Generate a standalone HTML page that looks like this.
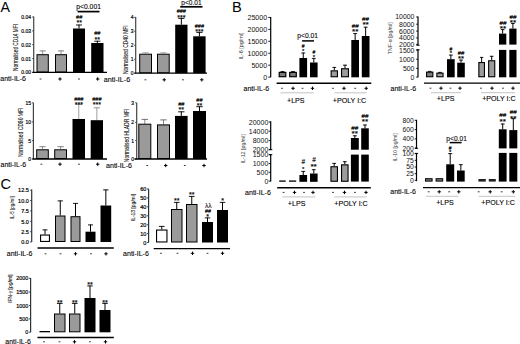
<!DOCTYPE html>
<html><head><meta charset="utf-8"><style>
html,body{margin:0;padding:0;background:#fff;width:520px;height:344px;overflow:hidden}
svg{display:block}
text{font-family:"Liberation Sans", sans-serif}
</style></head><body>
<svg width="520" height="344" viewBox="0 0 520 344">
<rect width="520" height="344" fill="#fff"/>
<text x="0.6" y="11.71" font-size="14.2" text-anchor="start" fill="#000">A</text>
<text x="232.1" y="11.56" font-size="14.6" text-anchor="start" fill="#000">B</text>
<text x="0.5" y="188.96" font-size="14.6" text-anchor="start" fill="#000">C</text>
<line x1="33.7" y1="16.6" x2="33.7" y2="72.4" stroke="#444" stroke-width="1.2"/>
<line x1="32.1" y1="17" x2="33.7" y2="17" stroke="#444" stroke-width="0.9"/>
<text x="31" y="19.09" font-size="5.8" text-anchor="end" fill="#000" stroke="#000" stroke-width="0.2" textLength="9.71" lengthAdjust="spacingAndGlyphs">0.04</text>
<line x1="32.1" y1="30.9" x2="33.7" y2="30.9" stroke="#444" stroke-width="0.9"/>
<text x="31" y="32.99" font-size="5.8" text-anchor="end" fill="#000" stroke="#000" stroke-width="0.2" textLength="9.71" lengthAdjust="spacingAndGlyphs">0.03</text>
<line x1="32.1" y1="44.7" x2="33.7" y2="44.7" stroke="#444" stroke-width="0.9"/>
<text x="31" y="46.79" font-size="5.8" text-anchor="end" fill="#000" stroke="#000" stroke-width="0.2" textLength="9.71" lengthAdjust="spacingAndGlyphs">0.02</text>
<line x1="32.1" y1="58.6" x2="33.7" y2="58.6" stroke="#444" stroke-width="0.9"/>
<text x="31" y="60.69" font-size="5.8" text-anchor="end" fill="#000" stroke="#000" stroke-width="0.2" textLength="9.71" lengthAdjust="spacingAndGlyphs">0.01</text>
<line x1="32.1" y1="72.4" x2="33.7" y2="72.4" stroke="#444" stroke-width="0.9"/>
<text x="31" y="74.49" font-size="5.8" text-anchor="end" fill="#000" stroke="#000" stroke-width="0.2" textLength="9.71" lengthAdjust="spacingAndGlyphs">0.00</text>
<line x1="32.5" y1="72.4" x2="107" y2="72.4" stroke="#000" stroke-width="1.3"/>
<text transform="translate(15.8 47.5) rotate(-90)" x="0" y="2.52" font-size="7" text-anchor="middle" fill="#111" stroke="#111" stroke-width="0.1" textLength="47" lengthAdjust="spacingAndGlyphs">Normalised CD14 MFI</text>
<line x1="42.65" y1="54.2" x2="42.65" y2="50.5" stroke="#777" stroke-width="0.8"/>
<line x1="39.58" y1="50.9" x2="45.72" y2="50.9" stroke="#777" stroke-width="0.9"/>
<rect x="37" y="54.7" width="11.3" height="17.2" fill="#9a9a9a" stroke="#000" stroke-width="1"/>
<line x1="61" y1="54.2" x2="61" y2="50.5" stroke="#777" stroke-width="0.8"/>
<line x1="58" y1="50.9" x2="64" y2="50.9" stroke="#777" stroke-width="0.9"/>
<rect x="55.5" y="54.7" width="11" height="17.2" fill="#9a9a9a" stroke="#000" stroke-width="1"/>
<line x1="79" y1="28.5" x2="79" y2="24.6" stroke="#000" stroke-width="1"/>
<line x1="76" y1="25" x2="82" y2="25" stroke="#000" stroke-width="0.9"/>
<rect x="73" y="28.5" width="12" height="43.9" fill="#000"/>
<line x1="97.35" y1="43" x2="97.35" y2="40.8" stroke="#000" stroke-width="1"/>
<line x1="94.27" y1="41.2" x2="100.42" y2="41.2" stroke="#000" stroke-width="0.9"/>
<rect x="91.2" y="43" width="12.3" height="29.4" fill="#000"/>
<text x="79.2" y="18.72" font-size="5.6" text-anchor="middle" fill="#000" stroke="#000" stroke-width="0.15">##</text>
<text x="79.2" y="25.49" font-size="7" text-anchor="middle" fill="#000" stroke="#000" stroke-width="0.15">**</text>
<text x="97.3" y="35.32" font-size="5.6" text-anchor="middle" fill="#000" stroke="#000" stroke-width="0.15">##</text>
<text x="97.3" y="41.59" font-size="7" text-anchor="middle" fill="#000" stroke="#000" stroke-width="0.15">**</text>
<text x="88.6" y="8.58" font-size="6.6" text-anchor="middle" fill="#000" stroke="#000" stroke-width="0.1" textLength="24.6" lengthAdjust="spacingAndGlyphs">p&lt;0.001</text>
<line x1="77.6" y1="11.6" x2="99.5" y2="11.6" stroke="#000" stroke-width="1.7"/>
<text x="26" y="81.02" font-size="7" text-anchor="end" fill="#000" stroke="#000" stroke-width="0.1">anti-IL-6</text>
<line x1="39.6" y1="79" x2="41.4" y2="79" stroke="#222" stroke-width="0.9"/>
<line x1="58.3" y1="79" x2="61.7" y2="79" stroke="#000" stroke-width="1"/>
<line x1="60" y1="77.3" x2="60" y2="80.7" stroke="#000" stroke-width="1"/>
<line x1="78.1" y1="79" x2="79.9" y2="79" stroke="#222" stroke-width="0.9"/>
<line x1="96" y1="79" x2="99.4" y2="79" stroke="#000" stroke-width="1"/>
<line x1="97.7" y1="77.3" x2="97.7" y2="80.7" stroke="#000" stroke-width="1"/>
<line x1="135.7" y1="17" x2="135.7" y2="73.2" stroke="#444" stroke-width="1.2"/>
<line x1="134.1" y1="17.3" x2="135.7" y2="17.3" stroke="#444" stroke-width="0.9"/>
<text x="133.6" y="19.39" font-size="5.8" text-anchor="end" fill="#000" stroke="#000" stroke-width="0.2" textLength="2.77" lengthAdjust="spacingAndGlyphs">4</text>
<line x1="134.1" y1="31.3" x2="135.7" y2="31.3" stroke="#444" stroke-width="0.9"/>
<text x="133.6" y="33.39" font-size="5.8" text-anchor="end" fill="#000" stroke="#000" stroke-width="0.2" textLength="2.77" lengthAdjust="spacingAndGlyphs">3</text>
<line x1="134.1" y1="45.3" x2="135.7" y2="45.3" stroke="#444" stroke-width="0.9"/>
<text x="133.6" y="47.39" font-size="5.8" text-anchor="end" fill="#000" stroke="#000" stroke-width="0.2" textLength="2.77" lengthAdjust="spacingAndGlyphs">2</text>
<line x1="134.1" y1="59.3" x2="135.7" y2="59.3" stroke="#444" stroke-width="0.9"/>
<text x="133.6" y="61.39" font-size="5.8" text-anchor="end" fill="#000" stroke="#000" stroke-width="0.2" textLength="2.77" lengthAdjust="spacingAndGlyphs">1</text>
<line x1="134.1" y1="73.2" x2="135.7" y2="73.2" stroke="#444" stroke-width="0.9"/>
<text x="133.6" y="75.29" font-size="5.8" text-anchor="end" fill="#000" stroke="#000" stroke-width="0.2" textLength="2.77" lengthAdjust="spacingAndGlyphs">0</text>
<line x1="134.5" y1="73.2" x2="207" y2="73.2" stroke="#000" stroke-width="1.3"/>
<text transform="translate(125.7 49.7) rotate(-90)" x="0" y="2.52" font-size="7" text-anchor="middle" fill="#111" stroke="#111" stroke-width="0.1" textLength="48.8" lengthAdjust="spacingAndGlyphs">Normalised CD40 MFI</text>
<line x1="145.6" y1="53.7" x2="145.6" y2="52.3" stroke="#aaa" stroke-width="0.8"/>
<line x1="142.4" y1="52.7" x2="148.8" y2="52.7" stroke="#aaa" stroke-width="0.9"/>
<rect x="139.7" y="54.2" width="11.8" height="18.5" fill="#9a9a9a" stroke="#000" stroke-width="1"/>
<line x1="163.35" y1="53.7" x2="163.35" y2="52.3" stroke="#aaa" stroke-width="0.8"/>
<line x1="160.18" y1="52.7" x2="166.52" y2="52.7" stroke="#aaa" stroke-width="0.9"/>
<rect x="157.5" y="54.2" width="11.7" height="18.5" fill="#9a9a9a" stroke="#000" stroke-width="1"/>
<line x1="181.35" y1="24.7" x2="181.35" y2="18" stroke="#000" stroke-width="1"/>
<line x1="178.27" y1="18.4" x2="184.43" y2="18.4" stroke="#000" stroke-width="0.9"/>
<rect x="175.2" y="24.7" width="12.3" height="48.5" fill="#000"/>
<line x1="199.4" y1="36.3" x2="199.4" y2="32" stroke="#000" stroke-width="1"/>
<line x1="196.3" y1="32.4" x2="202.5" y2="32.4" stroke="#000" stroke-width="0.9"/>
<rect x="193.2" y="36.3" width="12.4" height="36.9" fill="#000"/>
<text x="181.3" y="13.12" font-size="5.6" text-anchor="middle" fill="#000" stroke="#000" stroke-width="0.15">###</text>
<text x="181.3" y="20.19" font-size="7" text-anchor="middle" fill="#000" stroke="#000" stroke-width="0.15">***</text>
<text x="199.4" y="27.92" font-size="5.6" text-anchor="middle" fill="#000" stroke="#000" stroke-width="0.15">###</text>
<text x="199.4" y="34.19" font-size="7" text-anchor="middle" fill="#000" stroke="#000" stroke-width="0.15">***</text>
<text x="191.4" y="4.68" font-size="6.6" text-anchor="middle" fill="#000" stroke="#000" stroke-width="0.1" textLength="20.3" lengthAdjust="spacingAndGlyphs">p&lt;0.01</text>
<line x1="180.2" y1="6.8" x2="202.5" y2="6.8" stroke="#000" stroke-width="1.7"/>
<text x="130.2" y="82.02" font-size="7" text-anchor="end" fill="#000" stroke="#000" stroke-width="0.1" textLength="26.4" lengthAdjust="spacingAndGlyphs">anti-IL-6</text>
<line x1="144.5" y1="79.8" x2="146.3" y2="79.8" stroke="#222" stroke-width="0.9"/>
<line x1="162.5" y1="79.8" x2="165.9" y2="79.8" stroke="#000" stroke-width="1"/>
<line x1="164.2" y1="78.1" x2="164.2" y2="81.5" stroke="#000" stroke-width="1"/>
<line x1="182.1" y1="79.8" x2="183.9" y2="79.8" stroke="#222" stroke-width="0.9"/>
<line x1="200.1" y1="79.8" x2="203.5" y2="79.8" stroke="#000" stroke-width="1"/>
<line x1="201.8" y1="78.1" x2="201.8" y2="81.5" stroke="#000" stroke-width="1"/>
<line x1="33.4" y1="102.8" x2="33.4" y2="159" stroke="#444" stroke-width="1.2"/>
<line x1="31.8" y1="102.8" x2="33.4" y2="102.8" stroke="#444" stroke-width="0.9"/>
<text x="31" y="104.89" font-size="5.8" text-anchor="end" fill="#000" stroke="#000" stroke-width="0.2" textLength="5.55" lengthAdjust="spacingAndGlyphs">15</text>
<line x1="31.8" y1="121.9" x2="33.4" y2="121.9" stroke="#444" stroke-width="0.9"/>
<text x="31" y="123.99" font-size="5.8" text-anchor="end" fill="#000" stroke="#000" stroke-width="0.2" textLength="5.55" lengthAdjust="spacingAndGlyphs">10</text>
<line x1="31.8" y1="140.6" x2="33.4" y2="140.6" stroke="#444" stroke-width="0.9"/>
<text x="31" y="142.69" font-size="5.8" text-anchor="end" fill="#000" stroke="#000" stroke-width="0.2" textLength="2.77" lengthAdjust="spacingAndGlyphs">5</text>
<line x1="31.8" y1="159" x2="33.4" y2="159" stroke="#444" stroke-width="0.9"/>
<text x="31" y="161.09" font-size="5.8" text-anchor="end" fill="#000" stroke="#000" stroke-width="0.2" textLength="2.77" lengthAdjust="spacingAndGlyphs">0</text>
<line x1="32.5" y1="159" x2="107" y2="159" stroke="#000" stroke-width="1.3"/>
<text transform="translate(20 132.3) rotate(-90)" x="0" y="2.52" font-size="7" text-anchor="middle" fill="#111" stroke="#111" stroke-width="0.1" textLength="49.5" lengthAdjust="spacingAndGlyphs">Normalised CD80 MFI</text>
<line x1="42.5" y1="149.3" x2="42.5" y2="146.3" stroke="#777" stroke-width="0.8"/>
<line x1="39.35" y1="146.7" x2="45.65" y2="146.7" stroke="#777" stroke-width="0.9"/>
<rect x="36.7" y="149.8" width="11.6" height="8.7" fill="#9a9a9a" stroke="#000" stroke-width="1"/>
<line x1="60.6" y1="149.3" x2="60.6" y2="146.3" stroke="#777" stroke-width="0.8"/>
<line x1="57.4" y1="146.7" x2="63.8" y2="146.7" stroke="#777" stroke-width="0.9"/>
<rect x="54.7" y="149.8" width="11.8" height="8.7" fill="#9a9a9a" stroke="#000" stroke-width="1"/>
<line x1="78.75" y1="119" x2="78.75" y2="104" stroke="#888" stroke-width="0.8"/>
<line x1="75.62" y1="104.4" x2="81.88" y2="104.4" stroke="#888" stroke-width="0.9"/>
<rect x="72.5" y="119" width="12.5" height="40" fill="#000"/>
<line x1="96.85" y1="120.2" x2="96.85" y2="107.4" stroke="#888" stroke-width="0.8"/>
<line x1="93.77" y1="107.8" x2="99.92" y2="107.8" stroke="#888" stroke-width="0.9"/>
<rect x="90.7" y="120.2" width="12.3" height="38.8" fill="#000"/>
<text x="78.8" y="100.72" font-size="5.6" text-anchor="middle" fill="#000" stroke="#000" stroke-width="0.15">###</text>
<text x="78.8" y="107.19" font-size="7" text-anchor="middle" fill="#000" stroke="#000" stroke-width="0.15">***</text>
<text x="96.9" y="100.72" font-size="5.6" text-anchor="middle" fill="#000" stroke="#000" stroke-width="0.15">###</text>
<text x="96.9" y="107.19" font-size="7" text-anchor="middle" fill="#000" stroke="#000" stroke-width="0.15">***</text>
<text x="26.2" y="166.82" font-size="7" text-anchor="end" fill="#000" stroke="#000" stroke-width="0.1">anti-IL-6</text>
<line x1="40.5" y1="164.2" x2="42.3" y2="164.2" stroke="#222" stroke-width="0.9"/>
<line x1="58.3" y1="164.2" x2="61.7" y2="164.2" stroke="#000" stroke-width="1"/>
<line x1="60" y1="162.5" x2="60" y2="165.9" stroke="#000" stroke-width="1"/>
<line x1="78.1" y1="164.2" x2="79.9" y2="164.2" stroke="#222" stroke-width="0.9"/>
<line x1="96" y1="164.2" x2="99.4" y2="164.2" stroke="#000" stroke-width="1"/>
<line x1="97.7" y1="162.5" x2="97.7" y2="165.9" stroke="#000" stroke-width="1"/>
<line x1="136.7" y1="102.8" x2="136.7" y2="159" stroke="#444" stroke-width="1.2"/>
<line x1="135.1" y1="102.8" x2="136.7" y2="102.8" stroke="#444" stroke-width="0.9"/>
<text x="134.1" y="104.89" font-size="5.8" text-anchor="end" fill="#000" stroke="#000" stroke-width="0.2" textLength="2.77" lengthAdjust="spacingAndGlyphs">3</text>
<line x1="135.1" y1="122.3" x2="136.7" y2="122.3" stroke="#444" stroke-width="0.9"/>
<text x="134.1" y="124.39" font-size="5.8" text-anchor="end" fill="#000" stroke="#000" stroke-width="0.2" textLength="2.77" lengthAdjust="spacingAndGlyphs">2</text>
<line x1="135.1" y1="140.5" x2="136.7" y2="140.5" stroke="#444" stroke-width="0.9"/>
<text x="134.1" y="142.59" font-size="5.8" text-anchor="end" fill="#000" stroke="#000" stroke-width="0.2" textLength="2.77" lengthAdjust="spacingAndGlyphs">1</text>
<line x1="135.1" y1="159" x2="136.7" y2="159" stroke="#444" stroke-width="0.9"/>
<text x="134.1" y="161.09" font-size="5.8" text-anchor="end" fill="#000" stroke="#000" stroke-width="0.2" textLength="2.77" lengthAdjust="spacingAndGlyphs">0</text>
<line x1="134.5" y1="159" x2="207" y2="159" stroke="#000" stroke-width="1.3"/>
<text transform="translate(126 135.5) rotate(-90)" x="0" y="2.52" font-size="7" text-anchor="middle" fill="#111" stroke="#111" stroke-width="0.1" textLength="53.4" lengthAdjust="spacingAndGlyphs">Normalised HLADR MFI</text>
<line x1="144.8" y1="123.7" x2="144.8" y2="119" stroke="#666" stroke-width="0.8"/>
<line x1="141.55" y1="119.4" x2="148.05" y2="119.4" stroke="#666" stroke-width="0.9"/>
<rect x="138.8" y="124.2" width="12" height="34.3" fill="#9a9a9a" stroke="#000" stroke-width="1"/>
<line x1="163.5" y1="124.4" x2="163.5" y2="119.5" stroke="#666" stroke-width="0.8"/>
<line x1="160.25" y1="119.9" x2="166.75" y2="119.9" stroke="#666" stroke-width="0.9"/>
<rect x="157.5" y="124.9" width="12" height="33.6" fill="#9a9a9a" stroke="#000" stroke-width="1"/>
<line x1="181.3" y1="115.9" x2="181.3" y2="111.4" stroke="#000" stroke-width="1"/>
<line x1="178.15" y1="111.8" x2="184.45" y2="111.8" stroke="#000" stroke-width="0.9"/>
<rect x="175" y="115.9" width="12.6" height="43.1" fill="#000"/>
<line x1="199.5" y1="111" x2="199.5" y2="106.3" stroke="#000" stroke-width="1"/>
<line x1="196.25" y1="106.7" x2="202.75" y2="106.7" stroke="#000" stroke-width="0.9"/>
<rect x="193" y="111" width="13" height="48" fill="#000"/>
<text x="181.3" y="106.12" font-size="5.6" text-anchor="middle" fill="#000" stroke="#000" stroke-width="0.15">##</text>
<text x="181.3" y="112.19" font-size="7" text-anchor="middle" fill="#000" stroke="#000" stroke-width="0.15">**</text>
<text x="199.4" y="101.52" font-size="5.6" text-anchor="middle" fill="#000" stroke="#000" stroke-width="0.15">##</text>
<text x="199.4" y="107.89" font-size="7" text-anchor="middle" fill="#000" stroke="#000" stroke-width="0.15">**</text>
<text x="132" y="168.32" font-size="7" text-anchor="end" fill="#000" stroke="#000" stroke-width="0.1" textLength="26" lengthAdjust="spacingAndGlyphs">anti-IL-6</text>
<line x1="146.3" y1="165.5" x2="148.1" y2="165.5" stroke="#222" stroke-width="0.9"/>
<line x1="164" y1="165.5" x2="167.4" y2="165.5" stroke="#000" stroke-width="1"/>
<line x1="165.7" y1="163.8" x2="165.7" y2="167.2" stroke="#000" stroke-width="1"/>
<line x1="183.9" y1="165.5" x2="185.7" y2="165.5" stroke="#222" stroke-width="0.9"/>
<line x1="202.3" y1="165.5" x2="205.7" y2="165.5" stroke="#000" stroke-width="1"/>
<line x1="204" y1="163.8" x2="204" y2="167.2" stroke="#000" stroke-width="1"/>
<line x1="31.7" y1="189.5" x2="31.7" y2="242" stroke="#333" stroke-width="1.2"/>
<line x1="30.1" y1="190.2" x2="31.7" y2="190.2" stroke="#333" stroke-width="0.9"/>
<text x="28.8" y="192.4" font-size="6.1" text-anchor="end" fill="#000" stroke="#000" stroke-width="0.2" textLength="10.69" lengthAdjust="spacingAndGlyphs">12.5</text>
<line x1="30.1" y1="200.5" x2="31.7" y2="200.5" stroke="#333" stroke-width="0.9"/>
<text x="28.8" y="202.7" font-size="6.1" text-anchor="end" fill="#000" stroke="#000" stroke-width="0.2" textLength="10.69" lengthAdjust="spacingAndGlyphs">10.0</text>
<line x1="30.1" y1="210.9" x2="31.7" y2="210.9" stroke="#333" stroke-width="0.9"/>
<text x="28.8" y="213.1" font-size="6.1" text-anchor="end" fill="#000" stroke="#000" stroke-width="0.2" textLength="7.63" lengthAdjust="spacingAndGlyphs">7.5</text>
<line x1="30.1" y1="221.3" x2="31.7" y2="221.3" stroke="#333" stroke-width="0.9"/>
<text x="28.8" y="223.5" font-size="6.1" text-anchor="end" fill="#000" stroke="#000" stroke-width="0.2" textLength="7.63" lengthAdjust="spacingAndGlyphs">5.0</text>
<line x1="30.1" y1="231.7" x2="31.7" y2="231.7" stroke="#333" stroke-width="0.9"/>
<text x="28.8" y="233.9" font-size="6.1" text-anchor="end" fill="#000" stroke="#000" stroke-width="0.2" textLength="7.63" lengthAdjust="spacingAndGlyphs">2.5</text>
<line x1="30.1" y1="242" x2="31.7" y2="242" stroke="#333" stroke-width="0.9"/>
<text x="28.8" y="244.2" font-size="6.1" text-anchor="end" fill="#000" stroke="#000" stroke-width="0.2" textLength="7.63" lengthAdjust="spacingAndGlyphs">0.0</text>
<text transform="translate(11.6 207.7) rotate(-90)" x="0" y="2.23" font-size="6.2" text-anchor="middle" fill="#111" stroke="#111" stroke-width="0.1" textLength="22.7" lengthAdjust="spacingAndGlyphs">IL-5 [pg/ml]</text>
<line x1="45" y1="234.5" x2="45" y2="229.5" stroke="#000" stroke-width="1"/>
<line x1="42.5" y1="229.9" x2="47.5" y2="229.9" stroke="#000" stroke-width="0.9"/>
<rect x="40.55" y="235.05" width="8.9" height="6.4" fill="#fff" stroke="#000" stroke-width="1.1"/>
<line x1="60.25" y1="215.5" x2="60.25" y2="200.5" stroke="#000" stroke-width="1"/>
<line x1="57.62" y1="200.9" x2="62.88" y2="200.9" stroke="#000" stroke-width="0.9"/>
<rect x="55.5" y="216" width="9.5" height="25.5" fill="#9a9a9a" stroke="#000" stroke-width="1"/>
<line x1="75.5" y1="216.2" x2="75.5" y2="203" stroke="#000" stroke-width="1"/>
<line x1="73" y1="203.4" x2="78" y2="203.4" stroke="#000" stroke-width="0.9"/>
<rect x="71" y="216.7" width="9" height="24.8" fill="#9a9a9a" stroke="#000" stroke-width="1"/>
<line x1="90.5" y1="231.7" x2="90.5" y2="224.5" stroke="#000" stroke-width="1"/>
<line x1="88" y1="224.9" x2="93" y2="224.9" stroke="#000" stroke-width="0.9"/>
<rect x="85.5" y="231.7" width="10" height="10.3" fill="#000"/>
<line x1="105.85" y1="205.5" x2="105.85" y2="189.5" stroke="#000" stroke-width="1"/>
<line x1="103.17" y1="189.9" x2="108.52" y2="189.9" stroke="#000" stroke-width="0.9"/>
<rect x="100.5" y="205.5" width="10.7" height="36.5" fill="#000"/>
<line x1="37.5" y1="248" x2="113.8" y2="248" stroke="#000" stroke-width="1.3"/>
<text x="32.5" y="256.32" font-size="7" text-anchor="end" fill="#000" stroke="#000" stroke-width="0.1">anti-IL-6</text>
<line x1="44.6" y1="253.8" x2="46.4" y2="253.8" stroke="#222" stroke-width="0.9"/>
<line x1="59.6" y1="253.8" x2="61.4" y2="253.8" stroke="#222" stroke-width="0.9"/>
<line x1="73.8" y1="253.8" x2="77.2" y2="253.8" stroke="#000" stroke-width="1"/>
<line x1="75.5" y1="252.1" x2="75.5" y2="255.5" stroke="#000" stroke-width="1"/>
<line x1="90.1" y1="253.8" x2="91.9" y2="253.8" stroke="#222" stroke-width="0.9"/>
<line x1="104.3" y1="253.8" x2="107.7" y2="253.8" stroke="#000" stroke-width="1"/>
<line x1="106" y1="252.1" x2="106" y2="255.5" stroke="#000" stroke-width="1"/>
<line x1="148.6" y1="188.7" x2="148.6" y2="242.5" stroke="#333" stroke-width="1.2"/>
<line x1="147" y1="189" x2="148.6" y2="189" stroke="#333" stroke-width="0.9"/>
<text x="146.4" y="191.23" font-size="6.2" text-anchor="end" fill="#000" stroke="#000" stroke-width="0.2" textLength="6.21" lengthAdjust="spacingAndGlyphs">60</text>
<line x1="147" y1="197.9" x2="148.6" y2="197.9" stroke="#333" stroke-width="0.9"/>
<text x="146.4" y="200.13" font-size="6.2" text-anchor="end" fill="#000" stroke="#000" stroke-width="0.2" textLength="6.21" lengthAdjust="spacingAndGlyphs">50</text>
<line x1="147" y1="206.8" x2="148.6" y2="206.8" stroke="#333" stroke-width="0.9"/>
<text x="146.4" y="209.03" font-size="6.2" text-anchor="end" fill="#000" stroke="#000" stroke-width="0.2" textLength="6.21" lengthAdjust="spacingAndGlyphs">40</text>
<line x1="147" y1="215.8" x2="148.6" y2="215.8" stroke="#333" stroke-width="0.9"/>
<text x="146.4" y="218.03" font-size="6.2" text-anchor="end" fill="#000" stroke="#000" stroke-width="0.2" textLength="6.21" lengthAdjust="spacingAndGlyphs">30</text>
<line x1="147" y1="224.7" x2="148.6" y2="224.7" stroke="#333" stroke-width="0.9"/>
<text x="146.4" y="226.93" font-size="6.2" text-anchor="end" fill="#000" stroke="#000" stroke-width="0.2" textLength="6.21" lengthAdjust="spacingAndGlyphs">20</text>
<line x1="147" y1="233.6" x2="148.6" y2="233.6" stroke="#333" stroke-width="0.9"/>
<text x="146.4" y="235.83" font-size="6.2" text-anchor="end" fill="#000" stroke="#000" stroke-width="0.2" textLength="6.21" lengthAdjust="spacingAndGlyphs">10</text>
<line x1="147" y1="242.5" x2="148.6" y2="242.5" stroke="#333" stroke-width="0.9"/>
<text x="146.4" y="244.73" font-size="6.2" text-anchor="end" fill="#000" stroke="#000" stroke-width="0.2" textLength="3.1" lengthAdjust="spacingAndGlyphs">0</text>
<text transform="translate(132.8 207.5) rotate(-90)" x="0" y="2.23" font-size="6.2" text-anchor="middle" fill="#111" stroke="#111" stroke-width="0.1" textLength="27.2" lengthAdjust="spacingAndGlyphs">IL-13 [pg/ml]</text>
<line x1="161.75" y1="229.5" x2="161.75" y2="226" stroke="#000" stroke-width="1"/>
<line x1="158.88" y1="226.4" x2="164.62" y2="226.4" stroke="#000" stroke-width="0.9"/>
<rect x="156.55" y="230.05" width="10.4" height="11.9" fill="#fff" stroke="#000" stroke-width="1.1"/>
<line x1="176.75" y1="209" x2="176.75" y2="202" stroke="#000" stroke-width="1"/>
<line x1="173.88" y1="202.4" x2="179.62" y2="202.4" stroke="#000" stroke-width="0.9"/>
<rect x="171.5" y="209.5" width="10.5" height="32.5" fill="#9a9a9a" stroke="#000" stroke-width="1"/>
<line x1="191.75" y1="204" x2="191.75" y2="196" stroke="#000" stroke-width="1"/>
<line x1="188.88" y1="196.4" x2="194.62" y2="196.4" stroke="#000" stroke-width="0.9"/>
<rect x="186.5" y="204.5" width="10.5" height="37.5" fill="#9a9a9a" stroke="#000" stroke-width="1"/>
<line x1="207.5" y1="222" x2="207.5" y2="217.5" stroke="#000" stroke-width="1"/>
<line x1="204.75" y1="217.9" x2="210.25" y2="217.9" stroke="#000" stroke-width="0.9"/>
<rect x="202" y="222" width="11" height="20.5" fill="#000"/>
<line x1="222.5" y1="210" x2="222.5" y2="202" stroke="#000" stroke-width="1"/>
<line x1="219.75" y1="202.4" x2="225.25" y2="202.4" stroke="#000" stroke-width="0.9"/>
<rect x="217" y="210" width="11" height="32.5" fill="#000"/>
<text x="176.7" y="202.79" font-size="7" text-anchor="middle" fill="#000" stroke="#000" stroke-width="0.15">**</text>
<text x="191.7" y="197.19" font-size="7" text-anchor="middle" fill="#000" stroke="#000" stroke-width="0.15">**</text>
<text x="208.3" y="207.76" font-size="6.8" text-anchor="middle" fill="#000" stroke="#000" stroke-width="0.05">λλ</text>
<text x="208" y="213.11" font-size="5.3" text-anchor="middle" fill="#000" stroke="#000" stroke-width="0.15">##</text>
<text x="207.5" y="218.59" font-size="7" text-anchor="middle" fill="#000" stroke="#000" stroke-width="0.15">*</text>
<text x="222.5" y="202.89" font-size="7" text-anchor="middle" fill="#000" stroke="#000" stroke-width="0.15">*</text>
<line x1="153.7" y1="248.7" x2="230" y2="248.7" stroke="#000" stroke-width="1.3"/>
<text x="148.8" y="255.82" font-size="7" text-anchor="end" fill="#000" stroke="#000" stroke-width="0.1">anti-IL-6</text>
<line x1="160.1" y1="253.3" x2="161.9" y2="253.3" stroke="#222" stroke-width="0.9"/>
<line x1="176.6" y1="253.3" x2="178.4" y2="253.3" stroke="#222" stroke-width="0.9"/>
<line x1="190.8" y1="253.3" x2="194.2" y2="253.3" stroke="#000" stroke-width="1"/>
<line x1="192.5" y1="251.6" x2="192.5" y2="255" stroke="#000" stroke-width="1"/>
<line x1="206.6" y1="253.3" x2="208.4" y2="253.3" stroke="#222" stroke-width="0.9"/>
<line x1="220.8" y1="253.3" x2="224.2" y2="253.3" stroke="#000" stroke-width="1"/>
<line x1="222.5" y1="251.6" x2="222.5" y2="255" stroke="#000" stroke-width="1"/>
<line x1="30.6" y1="278" x2="30.6" y2="332.3" stroke="#333" stroke-width="1.2"/>
<line x1="29" y1="278.3" x2="30.6" y2="278.3" stroke="#333" stroke-width="0.9"/>
<text x="28.3" y="280.46" font-size="6" text-anchor="end" fill="#000" stroke="#000" stroke-width="0.2" textLength="12.01" lengthAdjust="spacingAndGlyphs">2000</text>
<line x1="29" y1="292" x2="30.6" y2="292" stroke="#333" stroke-width="0.9"/>
<text x="28.3" y="294.16" font-size="6" text-anchor="end" fill="#000" stroke="#000" stroke-width="0.2" textLength="12.01" lengthAdjust="spacingAndGlyphs">1500</text>
<line x1="29" y1="305.5" x2="30.6" y2="305.5" stroke="#333" stroke-width="0.9"/>
<text x="28.3" y="307.66" font-size="6" text-anchor="end" fill="#000" stroke="#000" stroke-width="0.2" textLength="12.01" lengthAdjust="spacingAndGlyphs">1000</text>
<line x1="29" y1="318.9" x2="30.6" y2="318.9" stroke="#333" stroke-width="0.9"/>
<text x="28.3" y="321.06" font-size="6" text-anchor="end" fill="#000" stroke="#000" stroke-width="0.2" textLength="9.01" lengthAdjust="spacingAndGlyphs">500</text>
<line x1="29" y1="332.2" x2="30.6" y2="332.2" stroke="#333" stroke-width="0.9"/>
<text x="28.3" y="334.36" font-size="6" text-anchor="end" fill="#000" stroke="#000" stroke-width="0.2" textLength="3" lengthAdjust="spacingAndGlyphs">0</text>
<text transform="translate(9.7 288.7) rotate(-90)" x="0" y="2.23" font-size="6.2" text-anchor="middle" fill="#111" stroke="#111" stroke-width="0.1" textLength="28.5" lengthAdjust="spacingAndGlyphs">IFN-γ [pg/ml]</text>
<rect x="40" y="331.5" width="9.5" height="0.3" fill="#fff" stroke="#000" stroke-width="1"/>
<line x1="59.75" y1="313.5" x2="59.75" y2="303" stroke="#000" stroke-width="1"/>
<line x1="56.88" y1="303.4" x2="62.62" y2="303.4" stroke="#000" stroke-width="0.9"/>
<rect x="54.5" y="314" width="10.5" height="17.8" fill="#9a9a9a" stroke="#000" stroke-width="1"/>
<line x1="74.75" y1="313.5" x2="74.75" y2="303" stroke="#000" stroke-width="1"/>
<line x1="71.88" y1="303.4" x2="77.62" y2="303.4" stroke="#000" stroke-width="0.9"/>
<rect x="69.5" y="314" width="10.5" height="17.8" fill="#9a9a9a" stroke="#000" stroke-width="1"/>
<line x1="90" y1="298" x2="90" y2="285.5" stroke="#000" stroke-width="1"/>
<line x1="87.25" y1="285.9" x2="92.75" y2="285.9" stroke="#000" stroke-width="0.9"/>
<rect x="84.5" y="298" width="11" height="34.3" fill="#000"/>
<line x1="105" y1="310" x2="105" y2="303" stroke="#000" stroke-width="1"/>
<line x1="102.25" y1="303.4" x2="107.75" y2="303.4" stroke="#000" stroke-width="0.9"/>
<rect x="99.5" y="310" width="11" height="22.3" fill="#000"/>
<text x="59.7" y="305.29" font-size="7" text-anchor="middle" fill="#000" stroke="#000" stroke-width="0.15">**</text>
<text x="74.7" y="305.29" font-size="7" text-anchor="middle" fill="#000" stroke="#000" stroke-width="0.15">**</text>
<text x="90" y="286.59" font-size="7" text-anchor="middle" fill="#000" stroke="#000" stroke-width="0.15">**</text>
<text x="105" y="304.59" font-size="7" text-anchor="middle" fill="#000" stroke="#000" stroke-width="0.15">**</text>
<line x1="37.5" y1="337.5" x2="113.8" y2="337.5" stroke="#000" stroke-width="1.3"/>
<text x="31" y="344.32" font-size="7" text-anchor="end" fill="#000" stroke="#000" stroke-width="0.1">anti-IL-6</text>
<line x1="43.1" y1="341.8" x2="44.9" y2="341.8" stroke="#222" stroke-width="0.9"/>
<line x1="58.6" y1="341.8" x2="60.4" y2="341.8" stroke="#222" stroke-width="0.9"/>
<line x1="72.8" y1="341.8" x2="76.2" y2="341.8" stroke="#000" stroke-width="1"/>
<line x1="74.5" y1="340.1" x2="74.5" y2="343.5" stroke="#000" stroke-width="1"/>
<line x1="89.1" y1="341.8" x2="90.9" y2="341.8" stroke="#222" stroke-width="0.9"/>
<line x1="103.8" y1="341.8" x2="107.2" y2="341.8" stroke="#000" stroke-width="1"/>
<line x1="105.5" y1="340.1" x2="105.5" y2="343.5" stroke="#000" stroke-width="1"/>
<line x1="270.7" y1="17" x2="270.7" y2="77.3" stroke="#000" stroke-width="1.2"/>
<line x1="268.3" y1="17.4" x2="270.7" y2="17.4" stroke="#000" stroke-width="0.9"/>
<text x="267.2" y="19.96" font-size="7.1" text-anchor="end" fill="#111">25000</text>
<line x1="268.3" y1="29.34" x2="270.7" y2="29.34" stroke="#000" stroke-width="0.9"/>
<text x="267.2" y="31.9" font-size="7.1" text-anchor="end" fill="#111">20000</text>
<line x1="268.3" y1="41.28" x2="270.7" y2="41.28" stroke="#000" stroke-width="0.9"/>
<text x="267.2" y="43.84" font-size="7.1" text-anchor="end" fill="#111">15000</text>
<line x1="268.3" y1="53.22" x2="270.7" y2="53.22" stroke="#000" stroke-width="0.9"/>
<text x="267.2" y="55.78" font-size="7.1" text-anchor="end" fill="#111">10000</text>
<line x1="268.3" y1="65.16" x2="270.7" y2="65.16" stroke="#000" stroke-width="0.9"/>
<text x="267.2" y="67.72" font-size="7.1" text-anchor="end" fill="#111">5000</text>
<line x1="268.3" y1="77.1" x2="270.7" y2="77.1" stroke="#000" stroke-width="0.9"/>
<text x="267.2" y="79.66" font-size="7.1" text-anchor="end" fill="#111">0</text>
<text transform="translate(241.2 46) rotate(-90)" x="0" y="2.16" font-size="6" text-anchor="middle" fill="#333" textLength="27" lengthAdjust="spacingAndGlyphs">IL-6 [pg/ml]</text>
<line x1="282.5" y1="71.8" x2="282.5" y2="71.2" stroke="#000" stroke-width="1"/>
<line x1="280.55" y1="71.6" x2="284.45" y2="71.6" stroke="#000" stroke-width="0.9"/>
<rect x="279.2" y="72.4" width="6.6" height="4.3" fill="#7a7a7a" stroke="#000" stroke-width="1.2"/>
<line x1="293" y1="71.8" x2="293" y2="71.2" stroke="#000" stroke-width="1"/>
<line x1="291.05" y1="71.6" x2="294.95" y2="71.6" stroke="#000" stroke-width="0.9"/>
<rect x="289.7" y="72.4" width="6.6" height="4.3" fill="#7a7a7a" stroke="#000" stroke-width="1.2"/>
<line x1="303.25" y1="58" x2="303.25" y2="52.6" stroke="#000" stroke-width="1"/>
<line x1="301.32" y1="53" x2="305.18" y2="53" stroke="#000" stroke-width="0.9"/>
<rect x="299.4" y="58" width="7.7" height="19.3" fill="#000"/>
<line x1="313.8" y1="62.5" x2="313.8" y2="58" stroke="#000" stroke-width="1"/>
<line x1="311.9" y1="58.4" x2="315.7" y2="58.4" stroke="#000" stroke-width="0.9"/>
<rect x="310" y="62.5" width="7.6" height="14.8" fill="#000"/>
<text x="303.2" y="48.01" font-size="5" text-anchor="middle" fill="#000" stroke="#000" stroke-width="0.15">#</text>
<text x="303.2" y="52.68" font-size="6" text-anchor="middle" fill="#000" stroke="#000" stroke-width="0.15">*</text>
<text x="313.8" y="54.01" font-size="5" text-anchor="middle" fill="#000" stroke="#000" stroke-width="0.15">#</text>
<text x="313.8" y="58.68" font-size="6" text-anchor="middle" fill="#000" stroke="#000" stroke-width="0.15">*</text>
<text x="307.6" y="38.16" font-size="7.1" text-anchor="middle" fill="#000" stroke="#000" stroke-width="0.1" textLength="20.7" lengthAdjust="spacingAndGlyphs">p&lt;0.01</text>
<line x1="302.1" y1="40.9" x2="314" y2="40.9" stroke="#000" stroke-width="1.5"/>
<line x1="334.3" y1="70.3" x2="334.3" y2="67" stroke="#000" stroke-width="1"/>
<line x1="332.45" y1="67.4" x2="336.15" y2="67.4" stroke="#000" stroke-width="0.9"/>
<rect x="331.15" y="70.85" width="6.3" height="5.9" fill="#9c9c9c" stroke="#000" stroke-width="1.1"/>
<line x1="345" y1="68.2" x2="345" y2="64.8" stroke="#000" stroke-width="1"/>
<line x1="343" y1="65.2" x2="347" y2="65.2" stroke="#000" stroke-width="0.9"/>
<rect x="341.55" y="68.75" width="6.9" height="8" fill="#9c9c9c" stroke="#000" stroke-width="1.1"/>
<line x1="355.15" y1="40" x2="355.15" y2="33.2" stroke="#000" stroke-width="1"/>
<line x1="353.22" y1="33.6" x2="357.07" y2="33.6" stroke="#000" stroke-width="0.9"/>
<rect x="351.3" y="40" width="7.7" height="37.3" fill="#000"/>
<line x1="365.65" y1="36" x2="365.65" y2="26.8" stroke="#000" stroke-width="1"/>
<line x1="363.72" y1="27.2" x2="367.57" y2="27.2" stroke="#000" stroke-width="0.9"/>
<rect x="361.8" y="36" width="7.7" height="41.3" fill="#000"/>
<text x="355.3" y="28.22" font-size="5.6" text-anchor="middle" fill="#000" stroke="#000" stroke-width="0.15" textLength="7" lengthAdjust="spacingAndGlyphs">##</text>
<text x="355.3" y="33.93" font-size="6.5" text-anchor="middle" fill="#000" stroke="#000" stroke-width="0.15" textLength="6.4" lengthAdjust="spacingAndGlyphs">**</text>
<text x="365.6" y="21.12" font-size="5.6" text-anchor="middle" fill="#000" stroke="#000" stroke-width="0.15" textLength="7" lengthAdjust="spacingAndGlyphs">##</text>
<text x="365.6" y="26.93" font-size="6.5" text-anchor="middle" fill="#000" stroke="#000" stroke-width="0.15" textLength="6.4" lengthAdjust="spacingAndGlyphs">**</text>
<line x1="276.6" y1="83.3" x2="371.3" y2="83.3" stroke="#000" stroke-width="1.4"/>
<text x="269.2" y="90.82" font-size="7" text-anchor="end" fill="#000" stroke="#000" stroke-width="0.1">anti-IL-6</text>
<line x1="281.1" y1="88.3" x2="282.9" y2="88.3" stroke="#222" stroke-width="0.9"/>
<line x1="291.3" y1="88.3" x2="294.7" y2="88.3" stroke="#000" stroke-width="1"/>
<line x1="293" y1="86.6" x2="293" y2="90" stroke="#000" stroke-width="1"/>
<line x1="301.6" y1="88.3" x2="303.4" y2="88.3" stroke="#222" stroke-width="0.9"/>
<line x1="310.8" y1="88.3" x2="314.2" y2="88.3" stroke="#000" stroke-width="1"/>
<line x1="312.5" y1="86.6" x2="312.5" y2="90" stroke="#000" stroke-width="1"/>
<line x1="332.1" y1="88.3" x2="333.9" y2="88.3" stroke="#222" stroke-width="0.9"/>
<line x1="342.3" y1="88.3" x2="345.7" y2="88.3" stroke="#000" stroke-width="1"/>
<line x1="344" y1="86.6" x2="344" y2="90" stroke="#000" stroke-width="1"/>
<line x1="354.3" y1="88.3" x2="356.1" y2="88.3" stroke="#222" stroke-width="0.9"/>
<line x1="364.5" y1="88.3" x2="367.9" y2="88.3" stroke="#000" stroke-width="1"/>
<line x1="366.2" y1="86.6" x2="366.2" y2="90" stroke="#000" stroke-width="1"/>
<line x1="280.5" y1="92.8" x2="313.8" y2="92.8" stroke="#aaa" stroke-width="0.7"/>
<line x1="334.4" y1="92.8" x2="366.7" y2="92.8" stroke="#aaa" stroke-width="0.7"/>
<text x="295.8" y="102.66" font-size="7.1" text-anchor="middle" fill="#000" stroke="#000" stroke-width="0.1">+LPS</text>
<text x="349.5" y="102.66" font-size="7.1" text-anchor="middle" fill="#000" stroke="#000" stroke-width="0.1">+POLY I:C</text>
<line x1="418" y1="16.6" x2="418" y2="45.6" stroke="#000" stroke-width="1.2"/>
<line x1="418" y1="49.4" x2="418" y2="77.3" stroke="#000" stroke-width="1.2"/>
<line x1="416.4" y1="45.2" x2="419.6" y2="45.2" stroke="#000" stroke-width="1"/>
<line x1="416.4" y1="49.8" x2="419.6" y2="49.8" stroke="#000" stroke-width="1"/>
<line x1="416.2" y1="17" x2="418" y2="17" stroke="#000" stroke-width="0.9"/>
<text x="414.4" y="19.48" font-size="6.9" text-anchor="end" fill="#111">10000</text>
<line x1="416.2" y1="24.2" x2="418" y2="24.2" stroke="#000" stroke-width="0.9"/>
<text x="414.4" y="26.68" font-size="6.9" text-anchor="end" fill="#111">8000</text>
<line x1="416.2" y1="31.1" x2="418" y2="31.1" stroke="#000" stroke-width="0.9"/>
<text x="414.4" y="33.58" font-size="6.9" text-anchor="end" fill="#111">6000</text>
<line x1="416.2" y1="37.9" x2="418" y2="37.9" stroke="#000" stroke-width="0.9"/>
<text x="414.4" y="40.38" font-size="6.9" text-anchor="end" fill="#111">4000</text>
<line x1="416.2" y1="44.3" x2="418" y2="44.3" stroke="#000" stroke-width="0.9"/>
<text x="414.4" y="46.78" font-size="6.9" text-anchor="end" fill="#111">2000</text>
<line x1="416.2" y1="50.1" x2="418" y2="50.1" stroke="#000" stroke-width="0.9"/>
<text x="414.4" y="52.58" font-size="6.9" text-anchor="end" fill="#111">1500</text>
<line x1="416.2" y1="59.2" x2="418" y2="59.2" stroke="#000" stroke-width="0.9"/>
<text x="414.4" y="61.68" font-size="6.9" text-anchor="end" fill="#111">1000</text>
<line x1="416.2" y1="68.4" x2="418" y2="68.4" stroke="#000" stroke-width="0.9"/>
<text x="414.4" y="70.88" font-size="6.9" text-anchor="end" fill="#111">500</text>
<line x1="416.2" y1="77.1" x2="418" y2="77.1" stroke="#000" stroke-width="0.9"/>
<text x="414.4" y="79.58" font-size="6.9" text-anchor="end" fill="#111">0</text>
<text transform="translate(390.3 38.2) rotate(-90)" x="0" y="2.16" font-size="6" text-anchor="middle" fill="#333" textLength="32" lengthAdjust="spacingAndGlyphs">TNF-α [pg/ml]</text>
<line x1="429.7" y1="71.6" x2="429.7" y2="71" stroke="#000" stroke-width="1"/>
<line x1="427.85" y1="71.4" x2="431.55" y2="71.4" stroke="#000" stroke-width="0.9"/>
<rect x="426.55" y="72.15" width="6.3" height="4.6" fill="#7a7a7a" stroke="#000" stroke-width="1.1"/>
<line x1="439.95" y1="72.6" x2="439.95" y2="72" stroke="#000" stroke-width="1"/>
<line x1="438.13" y1="72.4" x2="441.78" y2="72.4" stroke="#000" stroke-width="0.9"/>
<rect x="436.85" y="73.15" width="6.2" height="3.6" fill="#9c9c9c" stroke="#000" stroke-width="1.1"/>
<line x1="450.85" y1="59.2" x2="450.85" y2="54.7" stroke="#000" stroke-width="1"/>
<line x1="448.93" y1="55.1" x2="452.78" y2="55.1" stroke="#000" stroke-width="0.9"/>
<rect x="447" y="59.2" width="7.7" height="18.1" fill="#000"/>
<line x1="461" y1="62.7" x2="461" y2="59.7" stroke="#000" stroke-width="1"/>
<line x1="459.1" y1="60.1" x2="462.9" y2="60.1" stroke="#000" stroke-width="0.9"/>
<rect x="457.2" y="62.7" width="7.6" height="14.6" fill="#000"/>
<text x="450.9" y="50.51" font-size="5" text-anchor="middle" fill="#000" stroke="#000" stroke-width="0.15">#</text>
<text x="450.9" y="55.08" font-size="6" text-anchor="middle" fill="#000" stroke="#000" stroke-width="0.15">*</text>
<text x="461" y="54.71" font-size="5" text-anchor="middle" fill="#000" stroke="#000" stroke-width="0.15" textLength="6.6" lengthAdjust="spacingAndGlyphs">##</text>
<text x="461" y="60.63" font-size="6.5" text-anchor="middle" fill="#000" stroke="#000" stroke-width="0.15" textLength="6" lengthAdjust="spacingAndGlyphs">**</text>
<line x1="481.65" y1="62" x2="481.65" y2="57" stroke="#000" stroke-width="1"/>
<line x1="479.97" y1="57.4" x2="483.32" y2="57.4" stroke="#000" stroke-width="0.9"/>
<rect x="478.85" y="62.55" width="5.6" height="14.2" fill="#9c9c9c" stroke="#000" stroke-width="1.1"/>
<line x1="491.7" y1="60.2" x2="491.7" y2="55.9" stroke="#000" stroke-width="1"/>
<line x1="489.9" y1="56.3" x2="493.5" y2="56.3" stroke="#000" stroke-width="0.9"/>
<rect x="488.65" y="60.75" width="6.1" height="16" fill="#9c9c9c" stroke="#000" stroke-width="1.1"/>
<line x1="502.65" y1="33.6" x2="502.65" y2="29.2" stroke="#000" stroke-width="1"/>
<line x1="500.82" y1="29.6" x2="504.47" y2="29.6" stroke="#000" stroke-width="0.9"/>
<rect x="499" y="33.6" width="7.3" height="11" fill="#000"/>
<rect x="499" y="49.9" width="7.3" height="27.4" fill="#000"/>
<line x1="512.9" y1="28.6" x2="512.9" y2="23.1" stroke="#000" stroke-width="1"/>
<line x1="511.1" y1="23.5" x2="514.7" y2="23.5" stroke="#000" stroke-width="0.9"/>
<rect x="509.3" y="28.6" width="7.2" height="16" fill="#000"/>
<rect x="509.3" y="49.9" width="7.2" height="27.4" fill="#000"/>
<text x="502.9" y="25.28" font-size="5.2" text-anchor="middle" fill="#000" stroke="#000" stroke-width="0.15" textLength="7" lengthAdjust="spacingAndGlyphs">##</text>
<text x="502.9" y="31.23" font-size="6.5" text-anchor="middle" fill="#000" stroke="#000" stroke-width="0.15" textLength="6.4" lengthAdjust="spacingAndGlyphs">**</text>
<text x="512.9" y="19.03" font-size="5.2" text-anchor="middle" fill="#000" stroke="#000" stroke-width="0.15" textLength="7" lengthAdjust="spacingAndGlyphs">##</text>
<text x="512.9" y="25.03" font-size="6.5" text-anchor="middle" fill="#000" stroke="#000" stroke-width="0.15" textLength="6.4" lengthAdjust="spacingAndGlyphs">**</text>
<line x1="424" y1="83.1" x2="520" y2="83.1" stroke="#000" stroke-width="1.4"/>
<text x="416.2" y="90.72" font-size="7" text-anchor="end" fill="#000" stroke="#000" stroke-width="0.1">anti-IL-6</text>
<line x1="429.6" y1="88.2" x2="431.4" y2="88.2" stroke="#222" stroke-width="0.9"/>
<line x1="439.3" y1="88.2" x2="442.7" y2="88.2" stroke="#000" stroke-width="1"/>
<line x1="441" y1="86.5" x2="441" y2="89.9" stroke="#000" stroke-width="1"/>
<line x1="449.6" y1="88.2" x2="451.4" y2="88.2" stroke="#222" stroke-width="0.9"/>
<line x1="458.3" y1="88.2" x2="461.7" y2="88.2" stroke="#000" stroke-width="1"/>
<line x1="460" y1="86.5" x2="460" y2="89.9" stroke="#000" stroke-width="1"/>
<line x1="480.1" y1="88.2" x2="481.9" y2="88.2" stroke="#222" stroke-width="0.9"/>
<line x1="490.3" y1="88.2" x2="493.7" y2="88.2" stroke="#000" stroke-width="1"/>
<line x1="492" y1="86.5" x2="492" y2="89.9" stroke="#000" stroke-width="1"/>
<line x1="502.1" y1="88.2" x2="503.9" y2="88.2" stroke="#222" stroke-width="0.9"/>
<line x1="511.3" y1="88.2" x2="514.7" y2="88.2" stroke="#000" stroke-width="1"/>
<line x1="513" y1="86.5" x2="513" y2="89.9" stroke="#000" stroke-width="1"/>
<line x1="431" y1="92.7" x2="461" y2="92.7" stroke="#aaa" stroke-width="0.7"/>
<line x1="481" y1="92.7" x2="515" y2="92.7" stroke="#aaa" stroke-width="0.7"/>
<text x="445.6" y="100.86" font-size="7.1" text-anchor="middle" fill="#000" stroke="#000" stroke-width="0.1">+LPS</text>
<text x="498.9" y="100.86" font-size="7.1" text-anchor="middle" fill="#000" stroke="#000" stroke-width="0.1">+POLY I:C</text>
<line x1="270.7" y1="121.2" x2="270.7" y2="150.1" stroke="#000" stroke-width="1.2"/>
<line x1="270.7" y1="154.3" x2="270.7" y2="181.6" stroke="#000" stroke-width="1.2"/>
<line x1="269.1" y1="149.7" x2="272.3" y2="149.7" stroke="#000" stroke-width="1"/>
<line x1="269.1" y1="154.7" x2="272.3" y2="154.7" stroke="#000" stroke-width="1"/>
<line x1="268.7" y1="122" x2="270.7" y2="122" stroke="#000" stroke-width="0.9"/>
<text x="268.3" y="124.52" font-size="7" text-anchor="end" fill="#111">20000</text>
<line x1="268.7" y1="131.2" x2="270.7" y2="131.2" stroke="#000" stroke-width="0.9"/>
<text x="268.3" y="133.72" font-size="7" text-anchor="end" fill="#111">14000</text>
<line x1="268.7" y1="140.6" x2="270.7" y2="140.6" stroke="#000" stroke-width="0.9"/>
<text x="268.3" y="143.12" font-size="7" text-anchor="end" fill="#111">8000</text>
<line x1="268.7" y1="149.6" x2="270.7" y2="149.6" stroke="#000" stroke-width="0.9"/>
<text x="268.3" y="152.12" font-size="7" text-anchor="end" fill="#111">2000</text>
<line x1="268.7" y1="154.7" x2="270.7" y2="154.7" stroke="#000" stroke-width="0.9"/>
<text x="268.3" y="157.22" font-size="7" text-anchor="end" fill="#111">1500</text>
<line x1="268.7" y1="163.5" x2="270.7" y2="163.5" stroke="#000" stroke-width="0.9"/>
<text x="268.3" y="166.02" font-size="7" text-anchor="end" fill="#111">1000</text>
<line x1="268.7" y1="172.3" x2="270.7" y2="172.3" stroke="#000" stroke-width="0.9"/>
<text x="268.3" y="174.82" font-size="7" text-anchor="end" fill="#111">500</text>
<line x1="268.7" y1="181.1" x2="270.7" y2="181.1" stroke="#000" stroke-width="0.9"/>
<text x="268.3" y="183.62" font-size="7" text-anchor="end" fill="#111">0</text>
<text transform="translate(243.2 148.8) rotate(-90)" x="0" y="2.16" font-size="6" text-anchor="middle" fill="#333" textLength="29.4" lengthAdjust="spacingAndGlyphs">IL-12 [pg/ml]</text>
<rect x="279.2" y="180.4" width="6.5" height="1.4" fill="#111"/>
<rect x="289" y="180.4" width="7.2" height="1.4" fill="#111"/>
<line x1="303.25" y1="175" x2="303.25" y2="171" stroke="#000" stroke-width="1"/>
<line x1="301.32" y1="171.4" x2="305.18" y2="171.4" stroke="#000" stroke-width="0.9"/>
<rect x="299.4" y="175" width="7.7" height="6.8" fill="#000"/>
<line x1="313.8" y1="173.5" x2="313.8" y2="169.3" stroke="#000" stroke-width="1"/>
<line x1="311.9" y1="169.7" x2="315.7" y2="169.7" stroke="#000" stroke-width="0.9"/>
<rect x="310" y="173.5" width="7.6" height="8.3" fill="#000"/>
<text x="303.3" y="164.15" font-size="6.3" text-anchor="middle" fill="#111" stroke="#111" stroke-width="0.15" font-style="italic">#</text>
<text x="303.2" y="171.08" font-size="6" text-anchor="middle" fill="#000" stroke="#000" stroke-width="0.15">*</text>
<text x="313.9" y="161.85" font-size="6.3" text-anchor="middle" fill="#111" stroke="#111" stroke-width="0.15" font-style="italic">#</text>
<text x="313.6" y="169.33" font-size="6.5" text-anchor="middle" fill="#000" stroke="#000" stroke-width="0.15" textLength="6.4" lengthAdjust="spacingAndGlyphs">**</text>
<line x1="334.2" y1="166.2" x2="334.2" y2="163" stroke="#000" stroke-width="1"/>
<line x1="332.3" y1="163.4" x2="336.1" y2="163.4" stroke="#000" stroke-width="0.9"/>
<rect x="330.95" y="166.75" width="6.5" height="14.5" fill="#9c9c9c" stroke="#000" stroke-width="1.1"/>
<line x1="344.8" y1="164.3" x2="344.8" y2="161.3" stroke="#000" stroke-width="1"/>
<line x1="342.9" y1="161.7" x2="346.7" y2="161.7" stroke="#000" stroke-width="0.9"/>
<rect x="341.55" y="164.85" width="6.5" height="16.4" fill="#9c9c9c" stroke="#000" stroke-width="1.1"/>
<line x1="354.85" y1="138" x2="354.85" y2="135.4" stroke="#000" stroke-width="1"/>
<line x1="352.88" y1="135.8" x2="356.83" y2="135.8" stroke="#000" stroke-width="0.9"/>
<rect x="350.9" y="138" width="7.9" height="11.7" fill="#000"/>
<rect x="350.9" y="154.6" width="7.9" height="27" fill="#000"/>
<line x1="365" y1="128.3" x2="365" y2="124.6" stroke="#000" stroke-width="1"/>
<line x1="363.1" y1="125" x2="366.9" y2="125" stroke="#000" stroke-width="0.9"/>
<rect x="361.2" y="128.3" width="7.6" height="21.4" fill="#000"/>
<rect x="361.2" y="154.6" width="7.6" height="27" fill="#000"/>
<text x="354.8" y="130.28" font-size="5.2" text-anchor="middle" fill="#000" stroke="#000" stroke-width="0.15" textLength="7" lengthAdjust="spacingAndGlyphs">##</text>
<text x="354.8" y="135.93" font-size="6.5" text-anchor="middle" fill="#000" stroke="#000" stroke-width="0.15" textLength="6.4" lengthAdjust="spacingAndGlyphs">**</text>
<text x="365" y="117.88" font-size="5.2" text-anchor="middle" fill="#000" stroke="#000" stroke-width="0.15" textLength="7" lengthAdjust="spacingAndGlyphs">##</text>
<text x="365" y="124.23" font-size="6.5" text-anchor="middle" fill="#000" stroke="#000" stroke-width="0.15" textLength="6.4" lengthAdjust="spacingAndGlyphs">**</text>
<line x1="277.2" y1="187.7" x2="370.8" y2="187.7" stroke="#000" stroke-width="1.4"/>
<text x="270.8" y="194.92" font-size="7" text-anchor="end" fill="#000" stroke="#000" stroke-width="0.1">anti-IL-6</text>
<line x1="282.7" y1="192.4" x2="284.5" y2="192.4" stroke="#222" stroke-width="0.9"/>
<line x1="292.8" y1="192.4" x2="296.2" y2="192.4" stroke="#000" stroke-width="1"/>
<line x1="294.5" y1="190.7" x2="294.5" y2="194.1" stroke="#000" stroke-width="1"/>
<line x1="303.1" y1="192.4" x2="304.9" y2="192.4" stroke="#222" stroke-width="0.9"/>
<line x1="311.3" y1="192.4" x2="314.7" y2="192.4" stroke="#000" stroke-width="1"/>
<line x1="313" y1="190.7" x2="313" y2="194.1" stroke="#000" stroke-width="1"/>
<line x1="332.1" y1="192.4" x2="333.9" y2="192.4" stroke="#222" stroke-width="0.9"/>
<line x1="342.8" y1="192.4" x2="346.2" y2="192.4" stroke="#000" stroke-width="1"/>
<line x1="344.5" y1="190.7" x2="344.5" y2="194.1" stroke="#000" stroke-width="1"/>
<line x1="354.1" y1="192.4" x2="355.9" y2="192.4" stroke="#222" stroke-width="0.9"/>
<line x1="364.3" y1="192.4" x2="367.7" y2="192.4" stroke="#000" stroke-width="1"/>
<line x1="366" y1="190.7" x2="366" y2="194.1" stroke="#000" stroke-width="1"/>
<line x1="282.4" y1="196.9" x2="315.3" y2="196.9" stroke="#aaa" stroke-width="0.7"/>
<line x1="334.4" y1="196.9" x2="366.7" y2="196.9" stroke="#aaa" stroke-width="0.7"/>
<text x="296.6" y="205.86" font-size="7.1" text-anchor="middle" fill="#000" stroke="#000" stroke-width="0.1">+LPS</text>
<text x="351" y="205.86" font-size="7.1" text-anchor="middle" fill="#000" stroke="#000" stroke-width="0.1">+POLY I:C</text>
<line x1="416.5" y1="119.8" x2="416.5" y2="148.7" stroke="#000" stroke-width="1.2"/>
<line x1="416.5" y1="153" x2="416.5" y2="181.2" stroke="#000" stroke-width="1.2"/>
<line x1="414.9" y1="148.3" x2="418.1" y2="148.3" stroke="#000" stroke-width="1"/>
<line x1="414.9" y1="153.4" x2="418.1" y2="153.4" stroke="#000" stroke-width="1"/>
<line x1="414.7" y1="120.3" x2="416.5" y2="120.3" stroke="#000" stroke-width="0.9"/>
<text x="413.9" y="122.75" font-size="6.8" text-anchor="end" fill="#111">800</text>
<line x1="414.7" y1="129.6" x2="416.5" y2="129.6" stroke="#000" stroke-width="0.9"/>
<text x="413.9" y="132.05" font-size="6.8" text-anchor="end" fill="#111">600</text>
<line x1="414.7" y1="138.9" x2="416.5" y2="138.9" stroke="#000" stroke-width="0.9"/>
<text x="413.9" y="141.35" font-size="6.8" text-anchor="end" fill="#111">400</text>
<line x1="414.7" y1="148.1" x2="416.5" y2="148.1" stroke="#000" stroke-width="0.9"/>
<text x="413.9" y="150.55" font-size="6.8" text-anchor="end" fill="#111">200</text>
<line x1="414.7" y1="153.6" x2="416.5" y2="153.6" stroke="#000" stroke-width="0.9"/>
<text x="413.9" y="156.05" font-size="6.8" text-anchor="end" fill="#111">100</text>
<line x1="414.7" y1="160.3" x2="416.5" y2="160.3" stroke="#000" stroke-width="0.9"/>
<text x="413.9" y="162.75" font-size="6.8" text-anchor="end" fill="#111">75</text>
<line x1="414.7" y1="167" x2="416.5" y2="167" stroke="#000" stroke-width="0.9"/>
<text x="413.9" y="169.45" font-size="6.8" text-anchor="end" fill="#111">50</text>
<line x1="414.7" y1="173.7" x2="416.5" y2="173.7" stroke="#000" stroke-width="0.9"/>
<text x="413.9" y="176.15" font-size="6.8" text-anchor="end" fill="#111">25</text>
<line x1="414.7" y1="180.3" x2="416.5" y2="180.3" stroke="#000" stroke-width="0.9"/>
<text x="413.9" y="182.75" font-size="6.8" text-anchor="end" fill="#111">0</text>
<text transform="translate(395.2 147.4) rotate(-90)" x="0" y="2.16" font-size="6" text-anchor="middle" fill="#333" textLength="28.4" lengthAdjust="spacingAndGlyphs">IL-10 [pg/ml]</text>
<rect x="425.5" y="178.7" width="6.6" height="2.4" fill="#7a7a7a" stroke="#000" stroke-width="1"/>
<rect x="436.1" y="178.7" width="6.6" height="2.4" fill="#7a7a7a" stroke="#000" stroke-width="1"/>
<line x1="450.2" y1="164.3" x2="450.2" y2="153.2" stroke="#000" stroke-width="1"/>
<line x1="448.2" y1="153.6" x2="452.2" y2="153.6" stroke="#000" stroke-width="0.9"/>
<rect x="446.2" y="164.3" width="8" height="17.3" fill="#000"/>
<line x1="460.85" y1="170.5" x2="460.85" y2="164.3" stroke="#000" stroke-width="1"/>
<line x1="458.93" y1="164.7" x2="462.78" y2="164.7" stroke="#000" stroke-width="0.9"/>
<rect x="457" y="170.5" width="7.7" height="11.1" fill="#000"/>
<text x="450.2" y="149.61" font-size="5" text-anchor="middle" fill="#000" stroke="#000" stroke-width="0.15">#</text>
<text x="450.2" y="154.38" font-size="6" text-anchor="middle" fill="#000" stroke="#000" stroke-width="0.15">*</text>
<text x="456.6" y="140.56" font-size="7.1" text-anchor="middle" fill="#000" stroke="#000" stroke-width="0.1" textLength="20.5" lengthAdjust="spacingAndGlyphs">p&lt;0.01</text>
<line x1="449.7" y1="142.6" x2="461.6" y2="142.6" stroke="#000" stroke-width="1.5"/>
<rect x="478.4" y="179" width="7.4" height="2.6" fill="#222"/>
<rect x="488.8" y="179" width="7" height="2.6" fill="#222"/>
<line x1="502.7" y1="129.3" x2="502.7" y2="123.6" stroke="#000" stroke-width="1"/>
<line x1="500.75" y1="124" x2="504.65" y2="124" stroke="#000" stroke-width="0.9"/>
<rect x="498.8" y="129.3" width="7.8" height="19.1" fill="#000"/>
<rect x="498.8" y="152.9" width="7.8" height="28.7" fill="#000"/>
<line x1="513.3" y1="130.1" x2="513.3" y2="118.3" stroke="#000" stroke-width="1"/>
<line x1="511.3" y1="118.7" x2="515.3" y2="118.7" stroke="#000" stroke-width="0.9"/>
<rect x="509.3" y="130.1" width="8" height="18.3" fill="#000"/>
<rect x="509.3" y="152.9" width="8" height="28.7" fill="#000"/>
<text x="502.7" y="116.78" font-size="5.2" text-anchor="middle" fill="#000" stroke="#000" stroke-width="0.15" textLength="7" lengthAdjust="spacingAndGlyphs">##</text>
<text x="502.7" y="123.83" font-size="6.5" text-anchor="middle" fill="#000" stroke="#000" stroke-width="0.15" textLength="6.4" lengthAdjust="spacingAndGlyphs">**</text>
<text x="513.3" y="114.48" font-size="5.2" text-anchor="middle" fill="#000" stroke="#000" stroke-width="0.15" textLength="7" lengthAdjust="spacingAndGlyphs">##</text>
<text x="513.3" y="120.73" font-size="6.5" text-anchor="middle" fill="#000" stroke="#000" stroke-width="0.15" textLength="6.4" lengthAdjust="spacingAndGlyphs">**</text>
<line x1="423" y1="187.6" x2="520" y2="187.6" stroke="#000" stroke-width="1.4"/>
<text x="416" y="194.32" font-size="7" text-anchor="end" fill="#000" stroke="#000" stroke-width="0.1">anti-IL-6</text>
<line x1="427.8" y1="191.8" x2="429.6" y2="191.8" stroke="#222" stroke-width="0.9"/>
<line x1="437.5" y1="191.8" x2="440.9" y2="191.8" stroke="#000" stroke-width="1"/>
<line x1="439.2" y1="190.1" x2="439.2" y2="193.5" stroke="#000" stroke-width="1"/>
<line x1="448.3" y1="191.8" x2="450.1" y2="191.8" stroke="#222" stroke-width="0.9"/>
<line x1="457.1" y1="191.8" x2="460.5" y2="191.8" stroke="#000" stroke-width="1"/>
<line x1="458.8" y1="190.1" x2="458.8" y2="193.5" stroke="#000" stroke-width="1"/>
<line x1="477.8" y1="191.8" x2="479.6" y2="191.8" stroke="#222" stroke-width="0.9"/>
<line x1="488.5" y1="191.8" x2="491.9" y2="191.8" stroke="#000" stroke-width="1"/>
<line x1="490.2" y1="190.1" x2="490.2" y2="193.5" stroke="#000" stroke-width="1"/>
<line x1="500.8" y1="191.8" x2="502.6" y2="191.8" stroke="#222" stroke-width="0.9"/>
<line x1="511.6" y1="191.8" x2="515" y2="191.8" stroke="#000" stroke-width="1"/>
<line x1="513.3" y1="190.1" x2="513.3" y2="193.5" stroke="#000" stroke-width="1"/>
<line x1="425.8" y1="196.3" x2="458.5" y2="196.3" stroke="#aaa" stroke-width="0.7"/>
<line x1="478.7" y1="196.3" x2="515.2" y2="196.3" stroke="#aaa" stroke-width="0.7"/>
<text x="445" y="205.46" font-size="7.1" text-anchor="middle" fill="#000" stroke="#000" stroke-width="0.1">+LPS</text>
<text x="498.1" y="205.46" font-size="7.1" text-anchor="middle" fill="#000" stroke="#000" stroke-width="0.1">+POLY I:C</text>
</svg>
</body></html>
